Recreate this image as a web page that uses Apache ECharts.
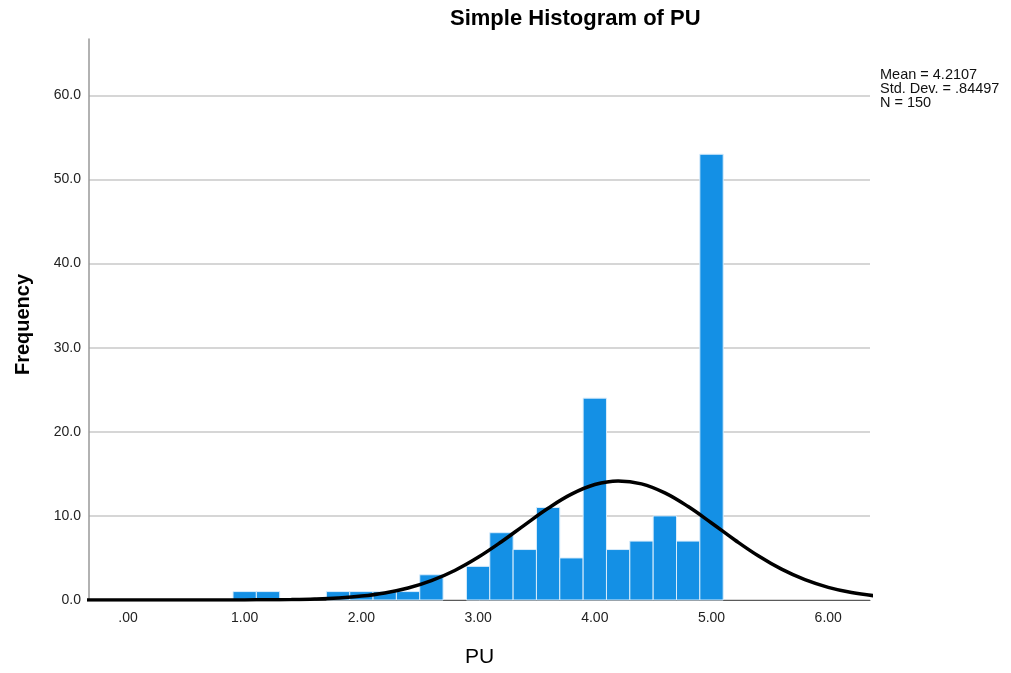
<!DOCTYPE html>
<html>
<head>
<meta charset="utf-8">
<title>Simple Histogram of PU</title>
<script src="https://cdn.jsdelivr.net/npm/echarts@6/dist/echarts.min.js"></script>
<style>
  html, body { margin: 0; padding: 0; background: #fff; }
  #main { width: 1011px; height: 673px; }
</style>
</head>
<body>
<div id="main"></div>
<script>
// 直方图数据 (bin centres, counts)
const binCenters = [1.0, 1.2, 1.8, 2.0, 2.2, 2.4, 2.6, 3.0, 3.2, 3.4, 3.6, 3.8, 4.0, 4.2, 4.4, 4.6, 4.8, 5.0];
const binCounts  = [1,   1,   1,   1,   1,   1,   3,   4,   8,   6,   11,  5,   24,  6,   7,   10,  7,   53];
const binWidth = 0.2;

// normal curve
const curveX = [-0.4, 0.0, 0.4, 0.8, 1.0, 1.2, 1.4, 1.6, 1.8, 2.0, 2.2, 2.4, 2.6, 2.8, 3.0, 3.2, 3.4, 3.6, 3.8, 4.0,
                4.2, 4.4, 4.6, 4.8, 5.0, 5.2, 5.4, 5.6, 5.8, 6.0, 6.2, 6.4];
const curveY = [0, 0, 0.001, 0.004, 0.010, 0.025, 0.056, 0.120, 0.242, 0.462, 0.836, 1.426, 2.305, 3.514, 5.078, 6.929, 8.940, 10.908, 12.586, 13.731,
                14.163, 13.813, 12.738, 11.107, 9.155, 7.137, 5.260, 3.666, 2.415, 1.506, 0.886, 0.494];

// axis ticks
const xTicks = [0, 1, 2, 3, 4, 5, 6];
const yTicks = [0, 10, 20, 30, 40, 50, 60];

const statsText = ['Mean = 4.2107', 'Std. Dev. = .84497', 'N = 150'];

const FONT = "'Liberation Sans', Arial, sans-serif";

const myChart = echarts.init(document.getElementById('main'));

const option = {
  backgroundColor: '#ffffff',
  animation: false,
  title: {
    text: 'Simple Histogram of PU',
    left: 450,
    top: 8,
    padding: 0,
    textStyle: { fontFamily: FONT, fontSize: 22, fontWeight: 'bold', color: '#000' }
  },
  grid: { left: 89, right: 141, top: 39, bottom: 72 },
  xAxis: {
    type: 'value',
    min: -0.334,
    max: 6.358,
    name: 'PU',
    nameLocation: 'middle',
    nameGap: 47,
    nameTextStyle: { fontFamily: FONT, fontSize: 21, color: '#000' },
    axisLine: { show: true, onZero: false, lineStyle: { color: '#5a5a5a', width: 1 } },
    axisTick: { show: false, customValues: xTicks },
    splitLine: { show: false },
    axisLabel: {
      customValues: xTicks,
      margin: 11,
      fontFamily: FONT,
      fontSize: 14,
      color: '#222',
      formatter: function (v) { return v === 0 ? '.00' : v.toFixed(2); }
    }
  },
  yAxis: {
    type: 'value',
    min: 0,
    max: 66.7,
    name: 'Frequency',
    nameLocation: 'middle',
    nameGap: 56,
    nameTextStyle: { fontFamily: FONT, fontSize: 20, fontWeight: 'bold', color: '#000', padding: [0, 0, 0, -10] },
    axisLine: { show: true, onZero: false, lineStyle: { color: '#999', width: 1.5 } },
    axisTick: { show: false, customValues: yTicks },
    splitLine: { show: true, lineStyle: { color: '#c8c8c8', width: 1.5 } },
    axisLabel: {
      customValues: yTicks,
      margin: 8,
      fontFamily: FONT,
      fontSize: 14,
      color: '#222',
      formatter: function (v) { return v.toFixed(1); }
    }
  },
  graphic: [{
    type: 'text',
    left: 880,
    top: 67,
    style: {
      text: statsText.join('\n'),
      fontFamily: FONT,
      fontSize: 14.5,
      lineHeight: 14.3,
      fill: '#111'
    }
  }],
  series: [
    {
      type: 'custom',
      name: 'bars',
      data: binCenters.map((c, i) => [c, binCounts[i]]),
      renderItem: function (params, api) {
        const c = api.value(0);
        const n = api.value(1);
        const p1 = api.coord([c - binWidth / 2, n]);
        const p2 = api.coord([c + binWidth / 2, 0]);
        return {
          type: 'rect',
          shape: { x: p1[0], y: p1[1], width: p2[0] - p1[0], height: p2[1] - p1[1] },
          style: { fill: '#1490e5', stroke: '#d8ecfb', lineWidth: 1 }
        };
      },
      z: 2
    },
    {
      type: 'line',
      name: 'normal',
      data: curveX.map((x, i) => [x, curveY[i]]),
      smooth: 0.4,
      showSymbol: false,
      clip: true,
      lineStyle: { color: '#000', width: 3.5 },
      z: 3
    }
  ]
};

myChart.setOption(option);
</script>
</body>
</html>
